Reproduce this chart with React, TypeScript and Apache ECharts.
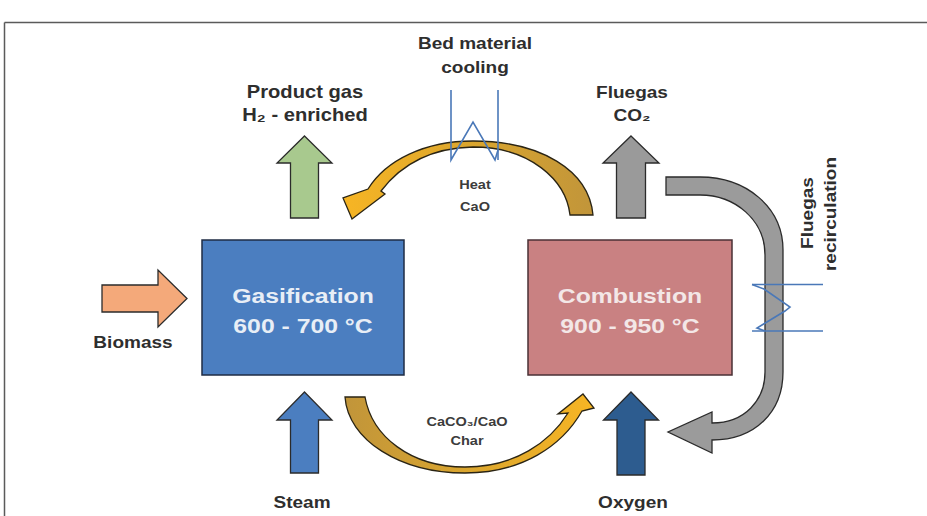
import React, { useEffect, useRef } from "react";
import * as echarts from "echarts";

// ---- text content of the diagram ----
const boxTitles = ["Gasification", "Combustion"];
const boxTemps = ["600 - 700 °C", "900 - 950 °C"];
const topLabels = ["Product gas", "H₂ - enriched", "Bed material", "cooling", "Fluegas", "CO₂"];
const loopLabels = ["Heat", "CaO", "CaCO₃/CaO", "Char"];
const inputLabels = ["Biomass", "Steam", "Oxygen"];
const sideLabels = ["Fluegas", "recirculation"];

const FONT = '"Liberation Sans", Arial, "DejaVu Sans", sans-serif';

// ---- custom outline shapes ----
const topArcPath =
  "M 593 215 C 589 170 540 141 473 141 C 425 141 386 160 368 189 L 343 198 L 352 219 L 385 194 L 381 191 C 400 166 430 148 473 147 C 530 147 566 180 570 215 Z";
const bottomArcPath =
  "M 345 397 C 348 440 400 473 465 473 C 522 473 562 446 582 411 L 594 408 L 583 394 L 558 414 L 568 413 C 550 442 515 467 465 467 C 410 467 372 436 365 397 Z";
const recircPath =
  "M 666 177 L 700 177 C 746 177 783 207 783 250 L 783 372 C 783 412 755 440 712 440 L 712 453 L 668 432 L 712 412 L 712 423 C 745 423 765 400 765 372 L 765 255 C 765 220 735 195 700 195 L 666 195 Z";

echarts.graphic.registerShape("topArc", echarts.graphic.extendPath(topArcPath, {}) as any);
echarts.graphic.registerShape("bottomArc", echarts.graphic.extendPath(bottomArcPath, {}) as any);
echarts.graphic.registerShape("recirc", echarts.graphic.extendPath(recircPath, {}) as any);

const OUTLINE = "#2b2b2b";
const LABEL = "#2e2e2e";
const HX = "#4a78b8";

function txt(text: string, x: number, y: number, size: number, color: string, extra: any = {}) {
  return {
    type: "text",
    x,
    y,
    scaleX: extra.scaleX ?? 1.12,
    rotation: extra.rotation ?? 0,
    z: 10,
    style: {
      text,
      fill: color,
      fontSize: size,
      fontWeight: "bold",
      fontFamily: FONT,
      align: "center",
      verticalAlign: "middle",
      textAlign: "center",
      textVerticalAlign: "middle",
    },
  };
}

function upArrow(cx: number, tip: number, base: number, hh: number, sh: number, bottom: number, fill: string) {
  return {
    type: "polygon",
    shape: {
      points: [
        [cx, tip],
        [cx + hh, base],
        [cx + sh, base],
        [cx + sh, bottom],
        [cx - sh, bottom],
        [cx - sh, base],
        [cx - hh, base],
      ],
    },
    style: { fill, stroke: OUTLINE, lineWidth: 1.3 },
  };
}

export default function App() {
  const ref = useRef<HTMLDivElement>(null);
  useEffect(() => {
    if (!ref.current) return;
    const chart = echarts.init(ref.current, null, { renderer: "svg" });
    const elements: any[] = [
      // frame
      { type: "line", shape: { x1: 4.5, y1: 22.5, x2: 927, y2: 22.5 }, style: { stroke: "#5a5a5a", lineWidth: 1.5 } },
      { type: "line", shape: { x1: 4.5, y1: 22.5, x2: 4.5, y2: 516 }, style: { stroke: "#5a5a5a", lineWidth: 1.5 } },
      // boxes
      { type: "rect", shape: { x: 202, y: 240, width: 202, height: 135 }, style: { fill: "#4b7ec0", stroke: "#1f2c44", lineWidth: 1.5 } },
      { type: "rect", shape: { x: 528, y: 240, width: 204, height: 135 }, style: { fill: "#c98182", stroke: "#4a3036", lineWidth: 1.5 } },
      txt(boxTitles[0], 303, 296, 21, "#e8eef6", { scaleX: 1.18 }),
      txt(boxTemps[0], 303, 326, 21, "#e8eef6", { scaleX: 1.18 }),
      txt(boxTitles[1], 630, 296, 21, "#f3e7e7", { scaleX: 1.18 }),
      txt(boxTemps[1], 630, 326, 21, "#f3e7e7", { scaleX: 1.18 }),
      // straight arrows
      upArrow(304.5, 136, 163, 27.5, 14, 218, "#a8c98e"),
      upArrow(631, 136, 163, 28, 14.5, 218, "#9a9a9a"),
      upArrow(304.5, 392, 420, 27.5, 14, 473, "#4b7ec0"),
      upArrow(631, 392, 420, 27.5, 14, 475, "#2d5c8f"),
      {
        type: "polygon",
        shape: { points: [[102, 285], [158, 285], [158, 270], [187, 298.5], [158, 327], [158, 312], [102, 312]] },
        style: { fill: "#f4a97a", stroke: OUTLINE, lineWidth: 1.3 },
      },
      // curved arrows
      {
        type: "topArc",
        style: {
          fill: new echarts.graphic.LinearGradient(0, 0, 1, 0, [
            { offset: 0, color: "#f7b524" },
            { offset: 0.5, color: "#dba62e" },
            { offset: 1, color: "#c1953a" },
          ]),
          stroke: "#2a2414",
          lineWidth: 1.3,
        },
      },
      {
        type: "bottomArc",
        style: {
          fill: new echarts.graphic.LinearGradient(0, 0, 1, 0, [
            { offset: 0, color: "#c1953a" },
            { offset: 0.5, color: "#dba62e" },
            { offset: 1, color: "#f7b524" },
          ]),
          stroke: "#2a2414",
          lineWidth: 1.3,
        },
      },
      { type: "recirc", style: { fill: "#9b9b9b", stroke: OUTLINE, lineWidth: 1.3 } },
      // heat exchangers
      {
        type: "polyline",
        shape: { points: [[451, 90], [451, 160], [473, 122], [495, 160], [498, 150]] },
        style: { stroke: HX, lineWidth: 1.6, fill: null },
        z: 5,
      },
      { type: "line", shape: { x1: 498, y1: 90, x2: 498, y2: 160 }, style: { stroke: HX, lineWidth: 1.6 }, z: 5 },
      { type: "line", shape: { x1: 752, y1: 284.5, x2: 823, y2: 284.5 }, style: { stroke: HX, lineWidth: 1.6 }, z: 5 },
      { type: "line", shape: { x1: 752, y1: 331, x2: 823, y2: 331 }, style: { stroke: HX, lineWidth: 1.6 }, z: 5 },
      {
        type: "polyline",
        shape: { points: [[752, 284.5], [764, 289], [790, 307], [785, 311], [757, 328], [765, 331]] },
        style: { stroke: HX, lineWidth: 1.6, fill: null },
        z: 5,
      },
      // labels
      txt(topLabels[0], 305, 92, 18, LABEL),
      txt(topLabels[1], 305, 115, 18, LABEL),
      txt(topLabels[2], 475, 43, 17, LABEL),
      txt(topLabels[3], 475, 67, 17, LABEL),
      txt(topLabels[4], 632, 92, 17, LABEL),
      txt(topLabels[5], 632, 115, 17, LABEL),
      txt(loopLabels[0], 475, 185, 13, "#3c3c3c"),
      txt(loopLabels[1], 475, 207, 13, "#3c3c3c"),
      txt(loopLabels[2], 467, 422, 13, "#3c3c3c"),
      txt(loopLabels[3], 467, 441, 13, "#3c3c3c"),
      txt(inputLabels[0], 133, 342, 17, LABEL),
      txt(inputLabels[1], 302, 502, 17, LABEL),
      txt(inputLabels[2], 633, 502, 17, LABEL),
      txt(sideLabels[0], 807, 213, 17, LABEL, { rotation: Math.PI / 2 }),
      txt(sideLabels[1], 830, 214, 17, LABEL, { rotation: Math.PI / 2 }),
    ];
    chart.setOption({
      animation: false,
      backgroundColor: "#ffffff",
      graphic: { elements },
    });
    return () => chart.dispose();
  }, []);
  return (
    <div
      ref={ref}
      style={{ position: "fixed", left: 0, top: 0, width: 927, height: 516, background: "#fff" }}
    />
  );
}
